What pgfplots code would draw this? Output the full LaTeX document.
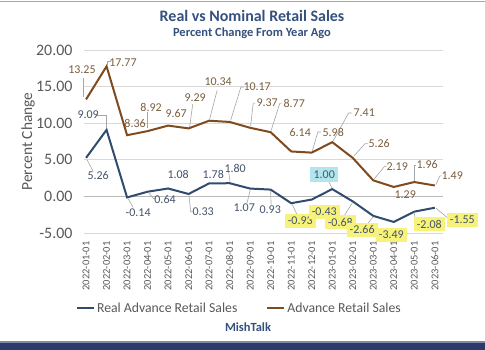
\documentclass[border=0pt]{standalone}
\usepackage{fontspec}
\setmainfont{Carlito}
\usepackage{pgfplots}
\pgfplotsset{compat=1.18}
\definecolor{navyline}{HTML}{314B6E}
\definecolor{brownline}{HTML}{7F4A1E}
\definecolor{labbrown}{HTML}{7A5E40}
\definecolor{labblue}{HTML}{44546A}
\definecolor{titleblue}{HTML}{34507E}
\definecolor{gridgray}{HTML}{D9D9D9}
\definecolor{leadgray}{HTML}{A6A6A6}
\definecolor{hly}{HTML}{F6F27A}
\definecolor{hlc}{HTML}{B2E6EE}
\definecolor{barnavy}{HTML}{2B3A6B}
\definecolor{legtext}{HTML}{595959}
\tikzset{
  lb/.style={text=labblue, font=\fontsize{12}{13}\selectfont, inner sep=1pt},
  lr/.style={text=labbrown, font=\fontsize{12}{13}\selectfont, inner sep=1pt},
  yl/.style={lb, fill=hly, inner sep=3pt},
  cy/.style={lb, fill=hlc, inner sep=3.5pt},
  ld/.style={draw=leadgray, line width=0.6bp}
}
\begin{document}
\begin{tikzpicture}
\useasboundingbox (0,0) rectangle (485bp,350bp);
\fill[white] (0,0) rectangle (485bp,350bp);
\draw[gray!70, line width=1.5bp] (0,348.5bp) -- (485bp,348.5bp);
\fill[barnavy] (0,0) rectangle (485bp,7bp);
\fill[barnavy!60] (0,7bp) rectangle (485bp,8.5bp);
\node[text=titleblue, font=\fontsize{16}{18}\selectfont\bfseries] at (252bp,334bp) {Real vs Nominal Retail Sales};
\node[text=titleblue, font=\fontsize{12.5}{14}\selectfont\bfseries] at (252bp,317bp) {Percent Change From Year Ago};
\node[text=titleblue, font=\fontsize{12.5}{14}\selectfont\bfseries] at (248bp,23bp) {MishTalk};
\begin{axis}[
  at={(84bp,117bp)}, anchor=south west,
  width=359bp, height=183bp, scale only axis,
  clip=false,
  xmin=-0.1, xmax=17.4, ymin=-5, ymax=20,
  ytick={-5,0,5,10,15,20},
  /pgf/number format/assume math mode=true,
  y tick label style={/pgf/number format/fixed, /pgf/number format/fixed zerofill, /pgf/number format/precision=2},
  yticklabel style={font=\fontsize{16}{18}\selectfont, text=legtext},
  yticklabel shift=8bp,
  xtick={0,...,17},
  xticklabels={2022-01-01,2022-02-01,2022-03-01,2022-04-01,2022-05-01,2022-06-01,2022-07-01,2022-08-01,2022-09-01,2022-10-01,2022-11-01,2022-12-01,2023-01-01,2023-02-01,2023-03-01,2023-04-01,2023-05-01,2023-06-01},
  xticklabel style={rotate=90, anchor=east, font=\fontsize{10.5}{12}\selectfont, text=legtext},
  xticklabel shift=5bp,
  major tick length=0pt,
  axis line style={draw=none},
  ymajorgrids, major grid style={gridgray, line width=0.8bp},
  ylabel={Percent Change},
  ylabel style={at={(axis description cs:-0.156,0.5)}, anchor=center, font=\fontsize{15.5}{17}\selectfont, text=legtext},
  legend columns=2,
  legend style={at={(axis description cs:0.433,-0.41)}, anchor=center, draw=none, fill=none,
    font=\fontsize{13.8}{15}\selectfont, text=legtext,
    /tikz/every even column/.append style={column sep=27bp}},
  legend image code/.code={\draw[#1, line width=2bp] (0bp,0bp) -- (17bp,0bp);},
]
\draw[gray!55, line width=0.8bp] (axis cs:-0.1,0) -- (axis cs:17.4,0);
\addplot[navyline, line width=2bp, no markers] coordinates {
(0,5.26) (1,9.09) (2,-0.14) (3,0.64) (4,1.08) (5,0.33) (6,1.78) (7,1.80) (8,1.07) (9,0.93)
(10,-0.93) (11,-0.43) (12,1.00) (13,-0.68) (14,-2.66) (15,-3.49) (16,-2.08) (17,-1.55)};
\addlegendentry{Real Advance Retail Sales}
\addplot[brownline, line width=2bp, no markers] coordinates {
(0,13.25) (1,17.77) (2,8.36) (3,8.92) (4,9.67) (5,9.29) (6,10.34) (7,10.17) (8,9.37) (9,8.77)
(10,6.14) (11,5.98) (12,7.41) (13,5.26) (14,2.19) (15,1.29) (16,1.96) (17,1.49)};
\addlegendentry{Advance Retail Sales}
% leader lines (brown)
\draw[ld] (axis cs:-0.15,16.2) -- (axis cs:-0.15,13.6);
\draw[ld] (axis cs:1.05,17.9) -- (axis cs:1.05,18.4) -- (axis cs:1.2,18.4);
\draw[ld] (axis cs:2.98,9.3) -- (axis cs:2.98,11.5);
\draw[ld] (axis cs:5.05,9.5) -- (axis cs:5.2,12.6);
\draw[ld] (axis cs:6.02,10.5) -- (axis cs:6.39,14.5);
\draw[ld] (axis cs:7.05,10.4) -- (axis cs:7.55,14.95) -- (axis cs:7.7,14.95);
\draw[ld] (axis cs:8.02,9.6) -- (axis cs:8.15,12.75) -- (axis cs:8.25,12.75);
\draw[ld] (axis cs:9.02,9.0) -- (axis cs:9.45,12.75) -- (axis cs:9.55,12.75);
\draw[ld] (axis cs:11.03,6.2) -- (axis cs:11.3,8.8) -- (axis cs:11.45,8.8);
\draw[ld] (axis cs:12.05,7.6) -- (axis cs:12.8,11.4) -- (axis cs:12.95,11.4);
\draw[ld] (axis cs:13.05,5.5) -- (axis cs:13.6,7.2) -- (axis cs:13.75,7.2);
\draw[ld] (axis cs:14.05,2.4) -- (axis cs:14.55,4.1) -- (axis cs:14.65,4.1);
\draw[ld] (axis cs:16.0,2.1) -- (axis cs:16.0,4.3) -- (axis cs:16.1,4.3);
\draw[ld] (axis cs:17.05,1.6) -- (axis cs:17.25,2.8) -- (axis cs:17.35,2.8);
% leader lines (blue)
\draw[ld] (axis cs:0.5,11.12) -- (axis cs:0.98,11.12) -- (axis cs:0.98,9.3);
\draw[ld] (axis cs:0.05,5.0) -- (axis cs:0.35,3.4);
\draw[ld] (axis cs:2.05,-0.3) -- (axis cs:2.3,-1.5);
\draw[ld] (axis cs:3.05,0.5) -- (axis cs:3.3,-0.3) -- (axis cs:3.4,-0.3);
\draw[ld] (axis cs:5.02,0.1) -- (axis cs:5.1,-2.1) -- (axis cs:5.2,-2.1);
\draw[ld] (axis cs:7.02,2.0) -- (axis cs:6.95,3.4);
\draw[ld] (axis cs:8.0,0.9) -- (axis cs:7.85,-0.9);
\draw[ld] (axis cs:9.0,0.75) -- (axis cs:9.02,-1.2);
\draw[ld] (axis cs:10.05,-1.1) -- (axis cs:10.3,-2.6);
\draw[ld] (axis cs:12.0,1.1) -- (axis cs:11.8,2.2);
\draw[ld] (axis cs:13.0,-0.8) -- (axis cs:12.55,-2.8);
\draw[ld] (axis cs:14.0,-2.8) -- (axis cs:13.7,-3.8);
\draw[ld] (axis cs:16.0,-2.2) -- (axis cs:16.05,-3.6) -- (axis cs:16.15,-3.6);
\draw[ld] (axis cs:17.05,-1.6) -- (axis cs:17.65,-3.0);
% brown labels
\node[lr] at (axis cs:-0.20,17.27) {13.25};
\node[lr] at (axis cs:1.80,18.22) {17.77};
\node[lr] at (axis cs:2.39,10.03) {8.36};
\node[lr] at (axis cs:3.17,12.21) {8.92};
\node[lr] at (axis cs:4.39,11.39) {9.67};
\node[lr] at (axis cs:5.32,13.44) {9.29};
\node[lr] at (axis cs:6.44,15.63) {10.34};
\node[lr] at (axis cs:8.34,14.95) {10.17};
\node[lr] at (axis cs:8.83,12.75) {9.37};
\node[lr] at (axis cs:10.15,12.75) {8.77};
\node[lr] at (axis cs:10.44,8.66) {6.14};
\node[lr] at (axis cs:12.05,8.80) {5.98};
\node[lr] at (axis cs:13.56,11.39) {7.41};
\node[lr] at (axis cs:14.29,7.16) {5.26};
\node[lr] at (axis cs:15.17,4.10) {2.19};
\node[lr] at (axis cs:15.56,0.20) {1.29};
\node[lr] at (axis cs:16.63,4.30) {1.96};
\node[lr] at (axis cs:17.85,2.80) {1.49};
% blue labels
\node[lb] at (axis cs:0.59,2.79) {5.26};
\node[lb] at (axis cs:0.10,11.12) {9.09};
\node[lb] at (axis cs:2.54,-2.27) {-0.14};
\node[lb] at (axis cs:3.85,-0.49) {0.64};
\node[lb] at (axis cs:4.49,3.06) {1.08};
\node[lb] at (axis cs:5.71,-2.13) {0.33};
\node[lb] at (axis cs:6.20,3.06) {1.78};
\node[lb] at (axis cs:7.27,3.88) {1.80};
\node[lb] at (axis cs:7.71,-1.58) {1.07};
\node[lb] at (axis cs:8.98,-1.86) {0.93};
\node[yl] at (axis cs:10.44,-3.37) {-0.93};
\node[yl] at (axis cs:11.61,-2.13) {-0.43};
\node[cy] at (axis cs:11.61,2.96) {1.00};
\node[yl] at (axis cs:12.39,-3.50) {-0.68};
\node[yl] at (axis cs:13.46,-4.56) {-2.66};
\node[yl] at (axis cs:14.88,-5.27) {-3.49};
\node[yl] at (axis cs:16.73,-3.80) {-2.08};
\node[yl] at (axis cs:18.34,-3.20) {-1.55};
\end{axis}
\end{tikzpicture}
\end{document}
